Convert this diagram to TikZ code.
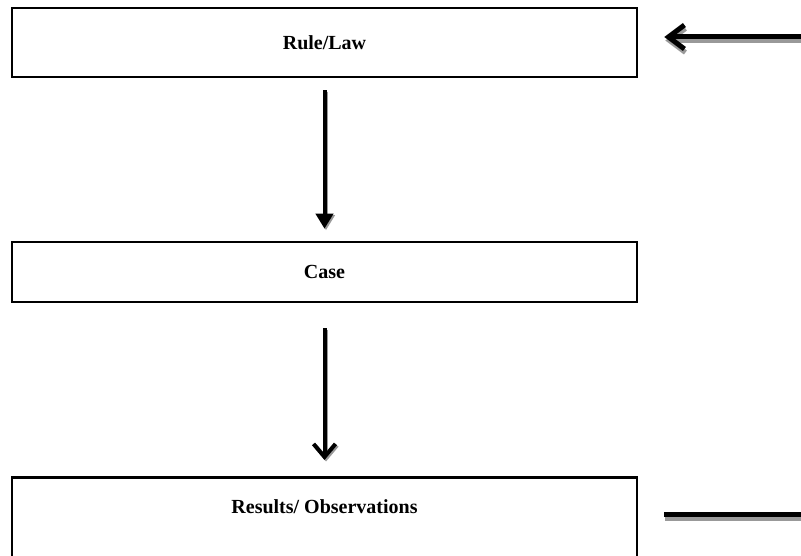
\documentclass[tikz,border=0pt]{standalone}
\usepackage{fontspec}
\setmainfont{Liberation Serif}
\usetikzlibrary{arrows.meta}
\begin{document}
\begin{tikzpicture}[x=1pt,y=-1pt,
  box/.style={draw=black, line width=2.5pt, minimum width=625pt, inner sep=0pt},
  lbl/.style={font=\bfseries\fontsize{20}{24}\selectfont},
  vline/.style={draw=black, line width=4pt},
  hline/.style={draw=black, line width=5pt},
  shadowline/.style={draw=black!40}
]
\useasboundingbox (0,0) rectangle (801,556);
\clip (0,0) rectangle (801,556);
% boxes
\node[box, lbl, minimum height=69pt] (rule) at (324.5,42.5) {Rule/Law};
\node[box, lbl, minimum height=60pt] (case) at (324.5,272) {Case};
\node[box, minimum height=110pt, anchor=north] (res) at (324.5,476) {};
\node[lbl] (restext) at (324.5,507) {Results/ Observations};
% free ends
\coordinate (inr) at (803,37);
\coordinate (outr) at (803,514.5);
% shadows
\begin{scope}[transform canvas={shift={(1.5pt,-1.5pt)}}]
  \draw[vline, shadowline, shorten <=12pt, shorten >=12pt, -{Triangle[width=17pt,length=15pt]}] (rule.south) -- (case.north);
  \draw[vline, shadowline, shorten <=25pt, shorten >=16pt, -{Straight Barb[width=22pt,length=13pt]}] (case.south) -- (res.north);
\end{scope}
\begin{scope}[transform canvas={shift={(1pt,-3.5pt)}}]
  \draw[hline, shadowline, shorten >=26pt, -{Straight Barb[width=24pt,length=16pt]}] (inr) -- (rule.east |- inr);
  \draw[hline, shadowline, shorten <=26pt] (res.east |- outr) -- (outr);
\end{scope}
% connectors
\draw[vline, shorten <=12pt, shorten >=12pt, -{Triangle[width=17pt,length=15pt]}] (rule.south) -- (case.north);
\draw[vline, shorten <=25pt, shorten >=16pt, -{Straight Barb[width=22pt,length=13pt]}] (case.south) -- (res.north);
\draw[hline, shorten >=26pt, -{Straight Barb[width=24pt,length=16pt]}] (inr) -- (rule.east |- inr);
\draw[hline, shorten <=26pt] (res.east |- outr) -- (outr);
\end{tikzpicture}
\end{document}
